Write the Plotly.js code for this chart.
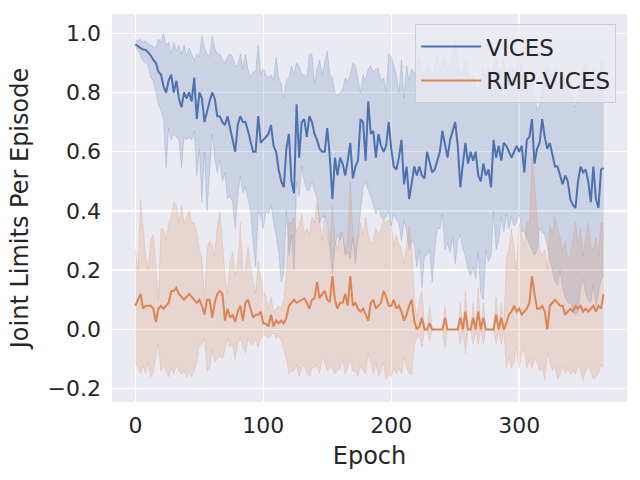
<!DOCTYPE html>
<html>
<head>
<meta charset="utf-8">
<script src="https://cdn.plot.ly/plotly-3.0.1.min.js"></script>
<style>
  html, body { margin: 0; padding: 0; background: #fff; }
  #chart { width: 640px; height: 480px; }
</style>
</head>
<body>
<div id="chart"></div>
<script>
// every second epoch, 0 .. 366
var epochs = Array.from({length: 184}, function (_, i) { return i * 2; });

var vicesMean = [
  0.963,0.955,0.95,0.945,0.944,0.935,0.925,0.91,0.90,0.87,
  0.86,0.82,0.80,0.84,0.86,0.80,0.84,0.78,0.75,0.80,
  0.78,0.80,0.77,0.85,0.71,0.80,0.78,0.70,0.74,0.77,
  0.80,0.78,0.72,0.72,0.70,0.69,0.72,0.68,0.65,0.60,
  0.69,0.72,0.70,0.70,0.67,0.63,0.60,0.60,0.72,0.63,
  0.64,0.65,0.66,0.69,0.62,0.60,0.54,0.50,0.48,0.61,
  0.66,0.50,0.46,0.76,0.58,0.70,0.71,0.65,0.72,0.70,
  0.66,0.64,0.61,0.60,0.60,0.68,0.58,0.44,0.58,0.52,
  0.58,0.56,0.52,0.57,0.63,0.51,0.55,0.57,0.71,0.70,
  0.57,0.77,0.66,0.67,0.58,0.66,0.62,0.60,0.62,0.70,
  0.61,0.55,0.54,0.58,0.64,0.49,0.55,0.44,0.49,0.55,
  0.52,0.55,0.52,0.51,0.60,0.56,0.53,0.54,0.57,0.60,
  0.67,0.62,0.58,0.64,0.67,0.70,0.62,0.48,0.56,0.63,
  0.56,0.60,0.57,0.60,0.52,0.50,0.56,0.52,0.54,0.48,
  0.64,0.58,0.62,0.57,0.63,0.62,0.60,0.58,0.60,0.62,
  0.60,0.62,0.53,0.64,0.65,0.71,0.56,0.61,0.63,0.71,
  0.65,0.61,0.63,0.59,0.55,0.55,0.52,0.49,0.52,0.50,
  0.44,0.42,0.41,0.50,0.55,0.53,0.54,0.50,0.43,0.55,
  0.44,0.41,0.54,0.545
];
var vicesUpper = [
  0.98,0.975,0.98,0.97,0.975,0.965,0.96,0.955,0.95,0.98,
  0.97,1.0,0.96,0.97,0.93,0.97,0.94,0.96,0.93,0.96,
  0.92,0.95,0.93,0.91,0.93,0.92,0.99,0.95,0.93,0.92,
  0.99,0.95,0.93,0.93,0.91,0.90,0.92,0.93,0.92,0.89,
  0.89,0.93,0.88,0.93,0.88,0.85,0.87,0.87,0.96,0.86,
  0.88,0.86,0.85,0.86,0.84,0.92,0.85,0.83,0.78,0.84,
  0.85,0.89,0.86,0.90,0.89,0.86,0.86,0.85,0.93,0.93,
  0.83,0.88,0.91,0.86,0.90,0.94,0.86,0.85,0.80,0.79,
  0.80,0.81,0.85,0.84,0.86,0.90,0.89,0.84,0.80,0.86,
  0.84,0.88,0.89,0.87,0.88,0.88,0.84,0.85,0.80,0.93,
  0.92,0.89,0.86,0.80,0.91,0.78,0.89,0.84,0.88,0.86,
  0.90,0.92,0.87,0.85,0.90,0.88,0.84,0.89,0.93,0.88,
  0.90,0.92,0.87,0.90,0.94,0.97,0.90,0.86,0.88,0.91,
  0.87,0.84,0.86,0.82,0.78,0.84,0.88,0.85,0.89,0.86,
  0.90,0.92,0.87,0.89,0.91,0.86,0.88,0.90,0.87,0.89,
  0.92,0.88,0.85,0.87,0.82,0.86,0.80,0.74,0.76,0.83,
  0.88,0.90,0.86,0.84,0.88,0.85,0.83,0.87,0.84,0.82,
  0.80,0.78,0.75,0.78,0.84,0.88,0.90,0.86,0.83,0.88,
  0.85,0.82,0.90,0.91
];
var vicesLower = [
  0.955,0.94,0.925,0.905,0.90,0.89,0.85,0.84,0.80,0.76,
  0.74,0.71,0.545,0.68,0.64,0.66,0.65,0.64,0.545,0.65,
  0.64,0.65,0.64,0.67,0.52,0.61,0.43,0.60,0.40,0.52,
  0.66,0.58,0.53,0.57,0.50,0.53,0.44,0.45,0.43,0.34,
  0.45,0.52,0.46,0.48,0.44,0.40,0.30,0.21,0.40,0.38,
  0.34,0.40,0.39,0.42,0.36,0.32,0.26,0.16,0.19,0.40,
  0.25,0.32,0.20,0.50,0.45,0.55,0.50,0.47,0.47,0.50,
  0.47,0.44,0.36,0.38,0.38,0.36,0.27,0.19,0.28,0.32,
  0.30,0.33,0.25,0.26,0.24,0.31,0.22,0.32,0.40,0.48,
  0.50,0.47,0.45,0.42,0.39,0.41,0.38,0.37,0.38,0.40,
  0.35,0.39,0.37,0.36,0.30,0.37,0.33,0.27,0.30,0.29,
  0.21,0.27,0.14,0.25,0.25,0.27,0.16,0.27,0.34,0.34,
  0.39,0.27,0.29,0.26,0.31,0.22,0.30,0.32,0.27,0.25,
  0.20,0.18,0.21,0.17,0.26,0.12,0.10,0.27,0.23,0.25,
  0.40,0.27,0.30,0.38,0.33,0.39,0.34,0.38,0.35,0.36,
  0.39,0.33,0.33,0.31,0.29,0.27,0.25,0.27,0.34,0.33,
  0.32,0.28,0.24,0.19,0.16,0.15,0.20,0.14,0.11,0.09,
  0.09,0.07,0.05,0.06,0.14,0.17,0.12,0.10,0.09,0.15,
  0.08,0.12,0.17,0.18
];

var rmpMean = [
  0.08,0.10,0.12,0.07,0.08,0.08,0.08,0.07,0.025,0.07,
  0.08,0.07,0.08,0.09,0.13,0.13,0.14,0.12,0.11,0.10,
  0.11,0.12,0.11,0.10,0.09,0.10,0.08,0.05,0.10,0.10,
  0.04,0.09,0.12,0.13,0.12,0.03,0.07,0.04,0.05,0.025,
  0.06,0.08,0.03,0.09,0.10,0.07,0.04,0.05,0.05,0.06,
  0.02,0.02,0.01,0.05,0.01,0.03,0.02,0.03,0.02,0.04,
  0.08,0.09,0.10,0.09,0.095,0.10,0.105,0.09,0.07,0.10,
  0.105,0.16,0.105,0.12,0.13,0.10,0.095,0.18,0.10,0.07,
  0.09,0.09,0.12,0.08,0.18,0.08,0.09,0.07,0.06,0.07,
  0.05,0.03,0.09,0.10,0.07,0.08,0.09,0.13,0.11,0.08,
  0.08,0.10,0.07,0.08,0.06,0.03,0.05,0.08,0.10,0.03,
  0.0,0.01,0.04,0.0,0.0,0.02,0.0,0.0,0.0,0.0,
  0.0,0.04,0.0,0.0,0.0,0.0,0.0,0.04,0.0,0.06,
  0.0,0.0,0.04,0.0,0.06,0.0,0.04,0.0,0.0,0.0,
  0.0,0.05,0.0,0.04,0.0,0.02,0.05,0.06,0.08,0.06,
  0.07,0.05,0.06,0.07,0.09,0.18,0.12,0.07,0.07,0.08,
  0.06,0.0,0.08,0.09,0.10,0.09,0.08,0.08,0.05,0.06,
  0.07,0.06,0.08,0.07,0.08,0.06,0.07,0.06,0.07,0.08,
  0.06,0.08,0.07,0.12
];
var rmpUpper = [
  0.27,0.20,0.44,0.34,0.25,0.20,0.30,0.32,0.22,0.10,
  0.34,0.34,0.30,0.36,0.38,0.43,0.42,0.36,0.42,0.36,
  0.38,0.40,0.36,0.36,0.33,0.27,0.24,0.10,0.27,0.30,
  0.28,0.25,0.35,0.40,0.30,0.18,0.12,0.23,0.26,0.18,
  0.22,0.36,0.19,0.20,0.28,0.22,0.16,0.12,0.23,0.17,
  0.13,0.11,0.07,0.11,0.06,0.07,0.08,0.07,0.10,0.18,
  0.36,0.36,0.38,0.33,0.35,0.39,0.32,0.34,0.32,0.38,
  0.36,0.43,0.36,0.30,0.39,0.32,0.28,0.42,0.30,0.27,
  0.33,0.32,0.26,0.31,0.50,0.33,0.27,0.31,0.36,0.32,
  0.38,0.32,0.29,0.30,0.34,0.32,0.34,0.37,0.36,0.37,
  0.36,0.28,0.32,0.29,0.27,0.22,0.28,0.35,0.28,0.10,
  0.04,0.10,0.13,0.01,0.0,0.08,0.0,0.0,0.0,0.0,
  0.0,0.08,0.0,0.0,0.0,0.0,0.0,0.09,0.0,0.13,
  0.0,0.0,0.09,0.0,0.14,0.0,0.09,0.0,0.0,0.0,
  0.0,0.11,0.0,0.09,0.0,0.24,0.27,0.34,0.27,0.20,
  0.36,0.32,0.28,0.36,0.36,0.58,0.50,0.38,0.27,0.25,
  0.27,0.20,0.35,0.32,0.38,0.34,0.31,0.26,0.30,0.24,
  0.25,0.30,0.36,0.29,0.34,0.25,0.30,0.36,0.28,0.27,
  0.31,0.25,0.36,0.36
];
var rmpLower = [
  -0.11,-0.13,-0.15,-0.12,-0.15,-0.11,-0.16,-0.15,-0.09,-0.05,
  -0.14,-0.12,-0.14,-0.16,-0.13,-0.15,-0.12,-0.14,-0.15,-0.14,
  -0.16,-0.15,-0.16,-0.14,-0.11,-0.05,-0.05,-0.03,-0.14,-0.13,
  -0.07,-0.11,-0.10,-0.09,-0.10,-0.07,-0.03,-0.06,-0.05,-0.10,
  -0.05,-0.03,-0.06,-0.08,-0.03,-0.05,-0.05,-0.03,-0.06,-0.03,
  -0.02,-0.02,-0.03,-0.02,-0.01,-0.03,-0.02,-0.04,-0.07,-0.10,
  -0.15,-0.14,-0.14,-0.12,-0.16,-0.13,-0.12,-0.15,-0.16,-0.13,
  -0.13,-0.12,-0.15,-0.09,-0.11,-0.14,-0.13,-0.13,-0.15,-0.14,
  -0.13,-0.10,-0.15,-0.13,-0.10,-0.14,-0.14,-0.16,-0.12,-0.14,
  -0.15,-0.08,-0.11,-0.15,-0.11,-0.16,-0.14,-0.11,-0.17,-0.15,
  -0.16,-0.13,-0.15,-0.13,-0.15,-0.09,-0.13,-0.15,-0.15,-0.05,
  -0.03,-0.02,-0.06,0.0,0.0,-0.04,0.0,0.0,0.0,0.0,
  0.0,-0.06,0.0,0.0,0.0,0.0,0.0,-0.05,0.0,-0.08,
  0.0,0.0,-0.05,0.0,-0.05,0.0,-0.05,0.0,0.0,0.0,
  0.0,-0.05,0.0,-0.05,0.0,-0.13,-0.09,-0.13,-0.11,-0.06,
  -0.13,-0.08,-0.07,-0.13,-0.10,-0.13,-0.10,-0.11,-0.14,-0.13,
  -0.17,-0.08,-0.11,-0.14,-0.12,-0.17,-0.15,-0.12,-0.15,-0.13,
  -0.15,-0.14,-0.15,-0.12,-0.14,-0.17,-0.14,-0.12,-0.14,-0.17,
  -0.16,-0.15,-0.12,-0.13
];

var blue = '#4C72B0';
var orange = '#DD8452';
var blueBand = 'rgba(76,114,176,0.2)';
var orangeBand = 'rgba(221,132,82,0.2)';

function band(y, color, fill) {
  return {
    x: epochs,
    y: y,
    type: 'scatter',
    mode: 'lines',
    line: {color: color, width: 1},
    fill: fill,
    fillcolor: color,
    hoverinfo: 'skip',
    showlegend: false
  };
}

var data = [
  band(vicesUpper, blueBand, 'none'),
  band(vicesLower, blueBand, 'tonexty'),
  band(rmpUpper, orangeBand, 'none'),
  band(rmpLower, orangeBand, 'tonexty'),
  {
    x: epochs, y: vicesMean, name: 'VICES',
    type: 'scatter', mode: 'lines',
    line: {color: blue, width: 2},
    legendgroup: 'a'
  },
  {
    x: epochs, y: rmpMean, name: 'RMP-VICES',
    type: 'scatter', mode: 'lines',
    line: {color: orange, width: 2},
    legendgroup: 'b'
  }
];

var textColor = '#262626';

var layout = {
  width: 640,
  height: 480,
  paper_bgcolor: '#ffffff',
  plot_bgcolor: '#EAEAF2',
  font: {family: 'DejaVu Sans', color: textColor, size: 22},
  margin: {l: 112, r: 13, t: 14, b: 78},
  xaxis: {
    range: [-18.3, 384.3],
    tickvals: [0, 100, 200, 300],
    showgrid: true,
    gridcolor: '#ffffff',
    gridwidth: 1.5,
    zeroline: false,
    showline: false,
    ticks: '',
    ticklabelstandoff: 8,
    tickfont: {size: 22},
    title: {text: 'Epoch', font: {size: 24}, standoff: 10}
  },
  yaxis: {
    range: [-0.245, 1.065],
    tickvals: [-0.2, 0, 0.2, 0.4, 0.6, 0.8, 1.0],
    tickformat: '.1f',
    showgrid: true,
    gridcolor: '#ffffff',
    gridwidth: 1.5,
    zeroline: false,
    showline: false,
    ticks: '',
    ticklabelstandoff: 10,
    tickfont: {size: 22},
    title: {text: 'Joint Limits Per Episode', font: {size: 24}, standoff: 12}
  },
  legend: {
    x: 0.979,
    y: 0.974,
    xanchor: 'right',
    yanchor: 'top',
    bgcolor: 'rgba(234,234,242,0.8)',
    bordercolor: '#cccccc',
    borderwidth: 1,
    font: {size: 23, color: textColor},
    itemwidth: 60,
    traceorder: 'grouped',
    tracegroupgap: 1
  },
  showlegend: true
};

Plotly.newPlot('chart', data, layout, {staticPlot: true, displayModeBar: false});
</script>
</body>
</html>
